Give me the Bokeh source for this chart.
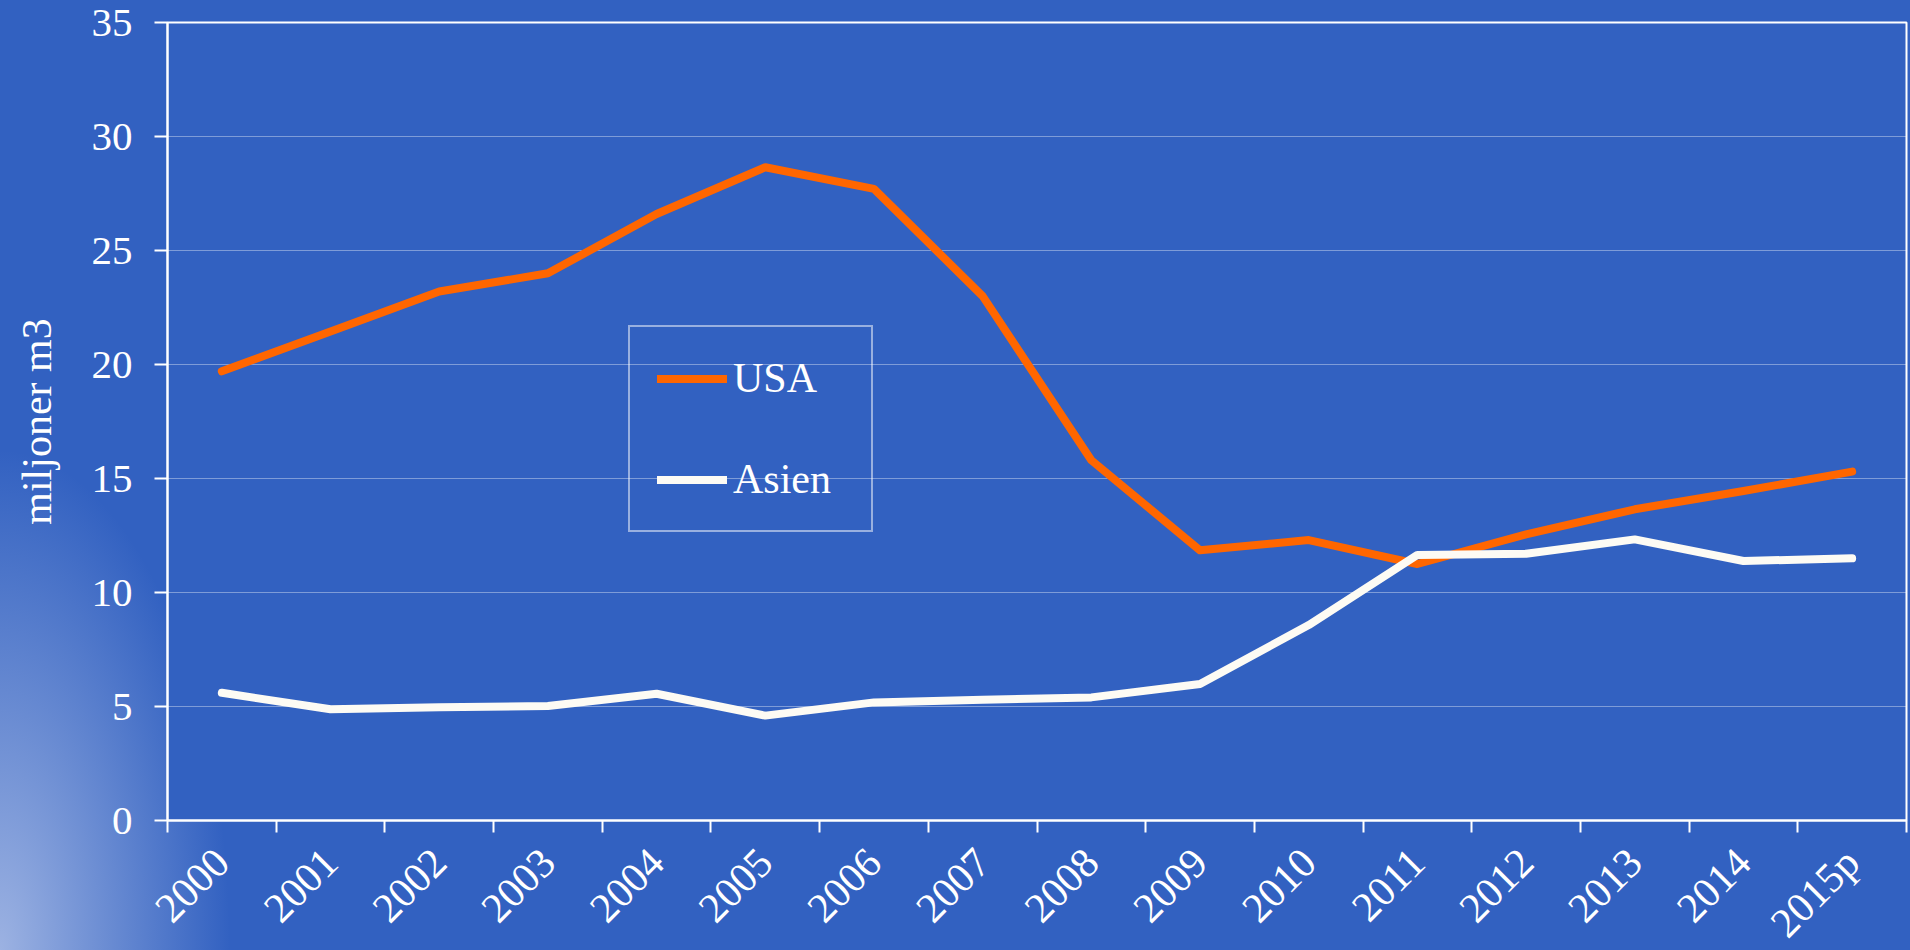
from bokeh.plotting import figure
from bokeh.embed import file_html
from bokeh.resources import INLINE
from bokeh.layouts import column
from bokeh.models import (ColumnDataSource, FixedTicker, Legend, LegendItem,
                          GlobalInlineStyleSheet)

# ---- data ----
years = ["2000", "2001", "2002", "2003", "2004", "2005", "2006", "2007",
         "2008", "2009", "2010", "2011", "2012", "2013", "2014", "2015p"]
usa = [19.7, 21.45, 23.2, 24.0, 26.6, 28.65, 27.7, 23.0,
       15.8, 11.85, 12.3, 11.25, 12.55, 13.65, 14.45, 15.3]
asien = [5.6, 4.88, 4.97, 5.02, 5.56, 4.6, 5.18, 5.3,
         5.4, 5.99, 8.57, 11.65, 11.7, 12.33, 11.38, 11.5]
y_ticks = [0, 5, 10, 15, 20, 25, 30, 35]
y_label = "miljoner m3"
series_names = ["USA", "Asien"]

BLUE = "#3261C1"
ORANGE = "#FF6600"
CREAM = "#FDFBF4"
FONT = "Liberation Serif"
FS = "41px"

xpos = [i + 0.5 for i in range(len(years))]
src = ColumnDataSource(data=dict(x=xpos, usa=usa, asien=asien))

css = GlobalInlineStyleSheet(css="""
html { min-height: 100%; overflow: hidden;
  background: radial-gradient(ellipse 230px 500px at 0% 100%,
      rgb(156,178,226) 0%, rgba(50,97,193,0.0) 100%) no-repeat, #3261C1; }
body { background: transparent; overflow: hidden; }
""")

p = figure(width=1910, height=975, output_backend="svg", toolbar_location=None,
           x_range=(0, len(years)), y_range=(0, 35),
           min_border_left=167, min_border_top=22, min_border_right=4,
           min_border_bottom=155,
           styles={"flex-shrink": "0", "min-height": "975px"})
p.background_fill_color = BLUE
p.border_fill_alpha = 0
p.outline_line_color = "white"
p.outline_line_width = 2

r_usa = p.line("x", "usa", source=src, line_color=ORANGE, line_width=8,
               line_cap="round", line_join="round")
r_as = p.line("x", "asien", source=src, line_color=CREAM, line_width=8,
              line_cap="round", line_join="round")

# y axis
ya = p.yaxis[0]
ya.ticker = FixedTicker(ticks=y_ticks)
ya.axis_line_color = "white"
ya.axis_line_width = 2
ya.major_tick_line_color = "white"
ya.major_tick_line_width = 2
ya.major_tick_out = 13
ya.major_tick_in = 0
ya.minor_tick_line_color = None
ya.major_label_text_color = "white"
ya.major_label_text_font = FONT
ya.major_label_text_font_size = FS
ya.major_label_standoff = 22
ya.axis_label = y_label
ya.axis_label_text_color = "white"
ya.axis_label_text_font = FONT
ya.axis_label_text_font_size = "42px"
ya.axis_label_text_font_style = "normal"
ya.axis_label_standoff = 29

# x axis: labels at centres, ticks at boundaries
xa = p.xaxis[0]
xa.ticker = FixedTicker(ticks=xpos, minor_ticks=list(range(len(years) + 1)))
xa.major_label_overrides = {x: y for x, y in zip(xpos, years)}
xa.axis_line_color = "white"
xa.axis_line_width = 2
xa.major_tick_line_color = None
xa.major_tick_out = 0
xa.major_tick_in = 0
xa.minor_tick_line_color = "white"
xa.minor_tick_line_width = 2
xa.minor_tick_out = 12
xa.minor_tick_in = 0
xa.major_label_orientation = 0.785398
xa.major_label_text_color = "white"
xa.major_label_text_font = FONT
xa.major_label_text_font_size = "42px"
xa.major_label_standoff = 23

p.xgrid.grid_line_color = None
p.ygrid.ticker = FixedTicker(ticks=y_ticks)
p.ygrid.grid_line_color = "white"
p.ygrid.grid_line_alpha = 0.75
p.ygrid.grid_line_width = 1
p.ygrid.grid_line_dash = "1 1"

legend = Legend(items=[LegendItem(label=series_names[0], renderers=[r_usa]),
                       LegendItem(label=series_names[1], renderers=[r_as])],
                location=(461, 288))
legend.background_fill_alpha = 0
legend.border_line_color = "white"
legend.border_line_width = 2
legend.label_text_color = "white"
legend.label_text_font = FONT
legend.label_text_font_size = "42px"
legend.padding = 27
legend.spacing = 53
legend.glyph_width = 70
legend.glyph_height = 41
legend.label_height = 41
legend.label_width = 111
legend.label_standoff = 6
legend.margin = 0
p.add_layout(legend, "center")

page = column(p, styles={"height": "950px", "width": "1910px",
                         "overflow": "hidden"})
page.stylesheets = [css]

open("out.html", "w").write(file_html(page, INLINE))
